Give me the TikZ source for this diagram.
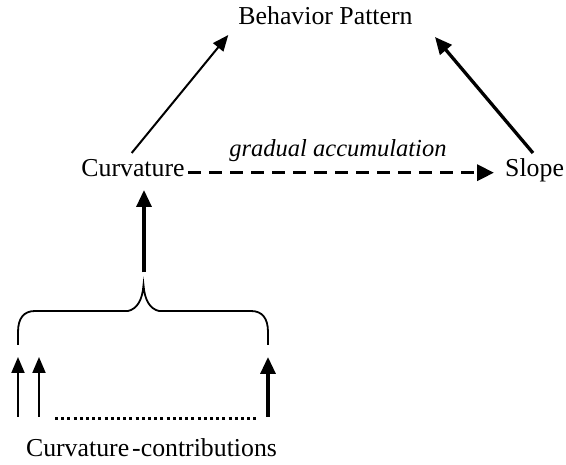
\documentclass[tikz,border=0pt]{standalone}
\usepackage{fontspec}
\setmainfont{Liberation Serif}
\usetikzlibrary{arrows.meta,calc}
\begin{document}
\begin{tikzpicture}[x=1pt,y=-1pt,
  label/.style={inner sep=0pt,anchor=base,font=\fontsize{25.8}{31}\selectfont},
  thin arrow/.style={line width=2pt,-{Triangle[length=16pt,width=13pt]}},
  thick arrow/.style={line width=3.3pt,-{Triangle[length=17pt,width=15pt]}},
  dash arrow/.style={line width=3.5pt,dash pattern=on 13pt off 8pt,-{Triangle[length=17pt,width=16pt]}},
  brace line/.style={line width=1.8pt},
  dot row/.style={line width=3.2pt,dash pattern=on 3pt off 3.2pt}]
\useasboundingbox (0,0) rectangle (566,465);

% labels
\node[label] (bp) at (325.5,25) {Behavior Pattern};
\node[label] (cv) at (133,177) {Curvature};
\node[label,anchor=base west] (sl) at (505,177) {Slope};
\node[label,font=\fontsize{24.5}{29}\selectfont\itshape] (ga) at (338,157) {gradual accumulation};
\node[label] (cc) at (151.5,456.5) {Curvature\kern3pt-contributions};

% links of the triangle
\coordinate (cvtop) at (131.7,153);
\coordinate (bpleft) at (228.3,35);
\coordinate (sltop) at (533,153);
\coordinate (bpright) at (435,37);
\coordinate (dstart) at (188,172.7);
\coordinate (dend) at (494,172.7);
\draw[thin arrow] (cvtop) -- (bpleft);
\draw[thick arrow] (sltop) -- (bpright);
\draw[dash arrow] (dstart) -- (dend);

% brace gathering the contributions
\coordinate (cusp) at (143.5,285);
\draw[brace line] (18,345) -- (18,332) .. controls (18,318) and (24,311) .. (35,311)
  -- (128,311) .. controls (137,309) and (142.5,300) .. (cusp)
  .. controls (144.5,300) and (150,309) .. (159,311)
  -- (251,311) .. controls (262,311) and (268,318) .. (268,332) -- (268,345);
\coordinate (upstart) at (144,272.5);
\coordinate (upend) at (144,190);
\draw[thick arrow] (upstart) -- (upend);

% individual contributions
\coordinate (c1) at (18,417);
\coordinate (c2) at (39,417);
\coordinate (c3) at (268,417);
\coordinate (t1) at (18,357);
\coordinate (t2) at (39,357);
\coordinate (t3) at (268,357);
\draw[thin arrow] (c1) -- (t1);
\draw[thin arrow] (c2) -- (t2);
\draw[thick arrow] (c3) -- (t3);
\coordinate (dl) at (55,418.3);
\coordinate (dr) at (259,418.3);
\draw[dot row] (dl) -- (dr);
\end{tikzpicture}
\end{document}
